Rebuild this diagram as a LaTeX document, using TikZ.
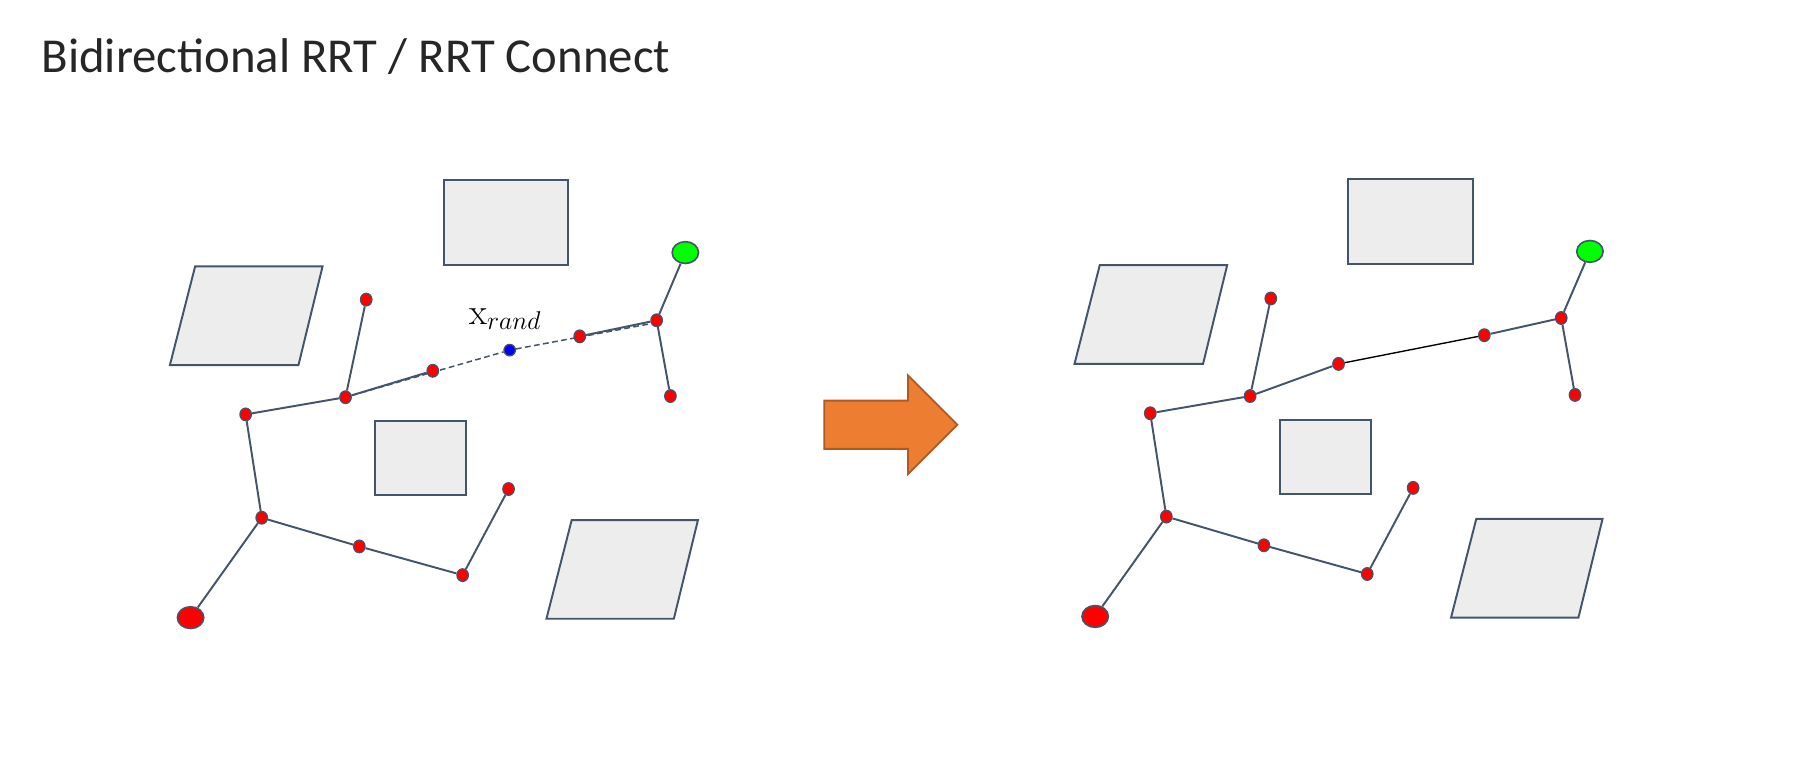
\RequirePackage{fix-cm}
\documentclass[tikz,border=0pt]{standalone}
\usepackage[no-math]{fontspec}
\setmainfont{Carlito}
\usetikzlibrary{shapes.geometric,backgrounds}

\definecolor{slate}{HTML}{44546A}
\definecolor{obstgray}{HTML}{EDEDED}
\definecolor{arrowfill}{HTML}{ED7D31}
\definecolor{arrowline}{HTML}{AE5A21}
\definecolor{titlegray}{HTML}{262626}

\begin{document}
\begin{tikzpicture}[x=1pt,y=-1pt,
  obst/.style={draw=slate,fill=obstgray,line width=1.7pt},
  edge/.style={draw=slate,line width=1.7pt},
  vtx/.style={ellipse,draw=slate,fill=red,line width=1.1pt,inner sep=0pt,minimum width=10pt,minimum height=11pt},
  endpt/.style={vtx,minimum width=23pt,minimum height=19pt,line width=1.4pt}]
\useasboundingbox (0,0) rectangle (1568,659.4);

\node[anchor=base west,inner sep=0pt,text=titlegray,font=\fontsize{42.5}{50}\selectfont] (title) at (36,63) {Bidirectional RRT / RRT Connect};

% left: before connect
\draw[obst] (387,157) rectangle (495,231);
\draw[obst] (170,232) -- (281,232) -- (260,318) -- (148,318) -- cycle;
\draw[obst] (327,367) rectangle (406,431);
\draw[obst] (498,453) -- (608,453) -- (587,539) -- (476,539) -- cycle;

\node[endpt] (Lstart) at (166,538) {};
\node[endpt,fill=green] (Lgoal) at (597,220) {};
\node[vtx] (La) at (319,261) {};
\node[vtx] (Lb) at (301,346) {};
\node[vtx] (Lc) at (214,361) {};
\node[vtx] (Ld) at (228,451) {};
\node[vtx] (Le) at (313,476) {};
\node[vtx] (Lf) at (403,501) {};
\node[vtx] (Lg) at (443,426) {};
\node[vtx] (Lh) at (377,323) {};
\node[vtx] (Li) at (505,293) {};
\node[vtx] (Lj) at (572,279) {};
\node[vtx] (Lk) at (584,345) {};
\node[vtx,fill=blue,minimum width=10pt,minimum height=10pt] (Lrand) at (444,305) {};

\draw[edge] (Lstart) -- (Ld) -- (Lc) -- (Lb) -- (La);
\draw[edge] (Lb) -- (Lh);
\draw[edge] (Ld) -- (Le) -- (Lf) -- (Lg);
\draw[edge] (Lgoal) -- (Lj) -- (Lk);
\draw[edge] (Lj) -- (Li);
\begin{scope}[on background layer]
\draw[edge,line width=1.3pt,dash pattern=on 5pt off 3pt] (Lb) -- (Lrand) -- ([yshift=-2pt]Lj.center);
\end{scope}

\node[inner sep=0pt,font=\fontsize{32}{38}\selectfont] (Lxlabel) at (440,278) {$\mathrm{x}_{rand}$};

% arrow
\draw[fill=arrowfill,draw=arrowline,line width=1.6pt] (718,349) -- (791,349) -- (791,327) -- (834,370) -- (791,413) -- (791,391) -- (718,391) -- cycle;

% right: after connect
\draw[obst] (1174,156) rectangle (1283,230);
\draw[obst] (958,231) -- (1069,231) -- (1048,317) -- (936,317) -- cycle;
\draw[obst] (1115,366) rectangle (1194,430);
\draw[obst] (1286,452) -- (1396,452) -- (1375,538) -- (1264,538) -- cycle;

\node[endpt] (Rstart) at (954,537) {};
\node[endpt,fill=green] (Rgoal) at (1385,219) {};
\node[vtx] (Ra) at (1107,260) {};
\node[vtx] (Rb) at (1089,345) {};
\node[vtx] (Rc) at (1002,360) {};
\node[vtx] (Rd) at (1016,450) {};
\node[vtx] (Re) at (1101,475) {};
\node[vtx] (Rf) at (1191,500) {};
\node[vtx] (Rg) at (1231,425) {};
\node[vtx] (Rh) at (1166,317) {};
\node[vtx] (Ri) at (1293,292) {};
\node[vtx] (Rj) at (1360,277) {};
\node[vtx] (Rk) at (1372,344) {};

\draw[edge] (Rstart) -- (Rd) -- (Rc) -- (Rb) -- (Ra);
\draw[edge] (Rb) -- (Rh);
\draw[edge] (Rd) -- (Re) -- (Rf) -- (Rg);
\draw[edge] (Rgoal) -- (Rj) -- (Rk);
\draw[edge] (Rj) -- (Ri);
\draw[black,line width=1.2pt] (Rh) -- (Ri);
\end{tikzpicture}
\end{document}
